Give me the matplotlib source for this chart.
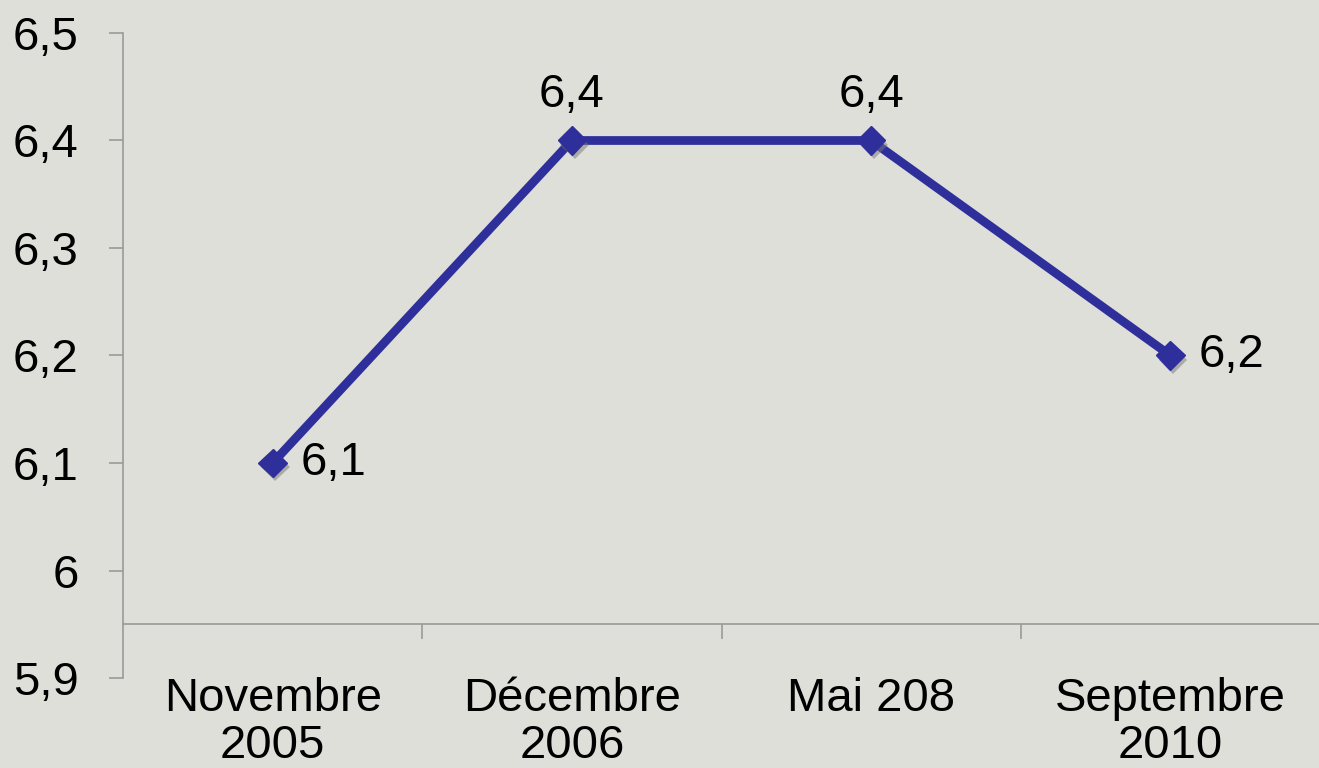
import matplotlib
matplotlib.use("Agg")
import matplotlib.pyplot as plt
import matplotlib.patheffects as pe
from matplotlib.ticker import FixedLocator, FuncFormatter

# data
categories = ["Novembre\n2005", "Décembre\n2006", "Mai 208", "Septembre\n2010"]
values = [6.1, 6.4, 6.4, 6.2]
label_side = ["right", "top", "top", "right"]

BG = "#dfdfda"
LINE = "#2f2f9b"
AXIS = "#9a9a9a"

plt.rcParams["font.family"] = ["Liberation Sans", "DejaVu Sans"]

fig = plt.figure(figsize=(13.19, 7.68), dpi=100, facecolor=BG)
ax = fig.add_axes([123 / 1319, 90 / 768, 1197 / 1319, 645 / 768])
ax.set_facecolor(BG)

x = list(range(len(values)))
ax.plot(x, values, color=LINE, lw=6.3, solid_joinstyle="miter", zorder=3)
ax.plot(x, values, ls="none", marker="D", ms=14.5, color=LINE, zorder=4,
        path_effects=[pe.SimplePatchShadow(offset=(2, -3), shadow_rgbFace="#777777", alpha=0.5),
                      pe.Normal()])

def fmt(v):
    s = "{:.1f}".format(v).replace(".", ",")
    return s[:-2] if s.endswith(",0") else s

for xi, v, side in zip(x, values, label_side):
    if side == "right":
        ax.annotate(fmt(v), (xi, v), xytext=(20, 0), textcoords="offset points",
                    ha="left", va="center", fontsize=34)
    else:
        ax.annotate(fmt(v), (xi, v), xytext=(0, 17), textcoords="offset points",
                    ha="center", va="bottom", fontsize=34)

ax.set_xlim(-0.5, 3.5)
ax.set_ylim(5.9, 6.5)

# axes styling
for s in ["top", "right"]:
    ax.spines[s].set_visible(False)
ax.spines["left"].set_color(AXIS)
ax.spines["left"].set_linewidth(1.2)
ax.spines["bottom"].set_color(AXIS)
ax.spines["bottom"].set_linewidth(1.2)
ax.spines["bottom"].set_position(("data", 5.95))

ax.set_yticks([5.9, 6.0, 6.1, 6.2, 6.3, 6.4, 6.5])
ax.yaxis.set_major_formatter(FuncFormatter(lambda v, p: fmt(v)))
ax.tick_params(axis="y", which="major", length=10, width=1.2, color=AXIS,
               pad=22, labelsize=34)

ax.set_xticks(x)
ax.set_xticklabels(categories)
ax.xaxis.set_minor_locator(FixedLocator([0.5, 1.5, 2.5]))
ax.tick_params(axis="x", which="major", length=0, pad=38, labelsize=34)
ax.tick_params(axis="x", which="minor", length=11, width=1.2, color=AXIS)
for lab in ax.get_xticklabels():
    lab.set_linespacing(1.1)

fig.savefig("out.png", dpi=100, facecolor=BG)
